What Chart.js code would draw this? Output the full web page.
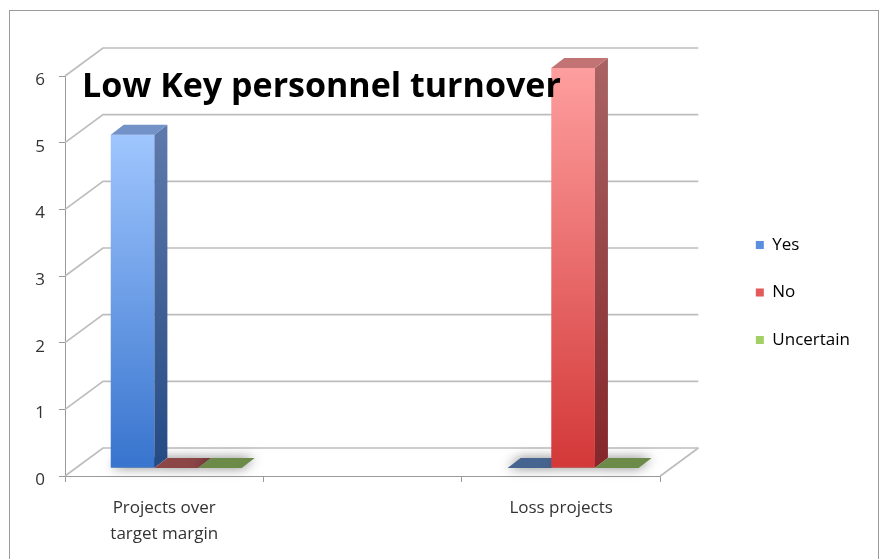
<!DOCTYPE html>
<html>
<head>
<meta charset="utf-8">
<script src="https://cdn.jsdelivr.net/npm/chart.js@4.4.0/dist/chart.umd.min.js"></script>
<style>
  html, body { margin: 0; padding: 0; background: #fff; }
  body { width: 881px; height: 559px; overflow: hidden; position: relative; }
  .frame { position: absolute; left: 9px; top: 10px; width: 868px; height: 600px; border: 1px solid #9a9a9a; }
  #chart { position: absolute; left: 0; top: 0; }
</style>
</head>
<body>
<div class="frame"></div>
<canvas id="chart" width="881" height="559"></canvas>
<script>
const TITLE = "Low Key personnel turnover";
const categories = [["Projects over", "target margin"], "", "Loss projects"];
const seriesNames = ["Yes", "No", "Uncertain"];
const yesValues = [5, null, 0];
const noValues = [0, null, 6];
const uncertainValues = [0, null, 0];
const yTicks = [0, 1, 2, 3, 4, 5, 6];

// styles
const legendColors = ["#5a8fdd", "#e25a5a", "#a3d065"];
const frontTop = ["#a2c8ff", "#ffa0a0", "#b5dc80"];
const frontBottom = ["#3a76cf", "#d43a3a", "#6e9a3a"];
const sideTop = ["#5d79ab", "#a86262", "#6d8a48"];
const sideBottom = ["#244a84", "#84262a", "#4a6a28"];
const topColors = ["#7292c8", "#c27474", "#7a9a52"];
const flatColors = ["#45648f", "#8c4646", "#6c8a48"];

const WALL = { x: 38, y: -28 };
const SHIFT = { x: 12, y: -8 };
const BAR_DEPTH = { x: 13, y: -10 };
const FONT = "'Open Sans', Lato, sans-serif";

function frontGradient(i) {
  return (context) => {
    const chart = context.chart;
    if (!chart.chartArea || context.raw == null) return frontBottom[i];
    const yScale = chart.scales.y;
    const top = yScale.getPixelForValue(context.raw) + SHIFT.y;
    const bottom = yScale.getPixelForValue(0) + SHIFT.y;
    if (bottom - top < 1) return frontBottom[i];
    const g = chart.ctx.createLinearGradient(0, top, 0, bottom);
    g.addColorStop(0, frontTop[i]);
    g.addColorStop(1, frontBottom[i]);
    return g;
  };
}

function poly(ctx, pts, fill) {
  ctx.beginPath();
  ctx.moveTo(pts[0][0], pts[0][1]);
  for (let k = 1; k < pts.length; k += 1) ctx.lineTo(pts[k][0], pts[k][1]);
  ctx.closePath();
  ctx.fillStyle = fill;
  ctx.fill();
}

function eachBar(chart, cb) {
  chart.data.datasets.forEach((ds, i) => {
    const meta = chart.getDatasetMeta(i);
    meta.data.forEach((bar, j) => {
      const v = ds.data[j];
      if (v == null) return;
      const p = bar.getProps(["x", "y", "base", "width"], true);
      cb(i, v, p.x - p.width / 2, p.x + p.width / 2, p.y, p.base);
    });
  });
}

const threeD = {
  id: "threeD",
  beforeDatasetsDraw(chart) {
    const { ctx, chartArea } = chart;
    const { left, right, bottom } = chartArea;
    const yScale = chart.scales.y;

    ctx.save();
    ctx.strokeStyle = "#bdbdbd";
    ctx.lineWidth = 1.7;
    yTicks.forEach((t) => {
      const py = yScale.getPixelForValue(t);
      ctx.beginPath();
      ctx.moveTo(left, py);
      ctx.lineTo(left + WALL.x, py + WALL.y);
      ctx.lineTo(right + WALL.x, py + WALL.y);
      ctx.stroke();
    });
    ctx.beginPath();
    ctx.moveTo(right, bottom);
    ctx.lineTo(right + WALL.x, bottom + WALL.y);
    ctx.stroke();
    ctx.restore();

    ctx.save();
    ctx.translate(SHIFT.x, SHIFT.y);
    // floor footprints with soft shadow
    eachBar(chart, (i, v, l, r, y, base) => {
      const pts = [[l, base], [r, base], [r + BAR_DEPTH.x, base + BAR_DEPTH.y], [l + BAR_DEPTH.x, base + BAR_DEPTH.y]];
      ctx.save();
      ctx.shadowColor = "rgba(0,0,0,0.5)";
      ctx.shadowBlur = 12;
      poly(ctx, pts, flatColors[i]);
      ctx.restore();
    });
    ctx.restore();

    ctx.save();
    ctx.translate(SHIFT.x, SHIFT.y);
  },
  afterDatasetsDraw(chart) {
    const { ctx } = chart;
    eachBar(chart, (i, v, l, r, y, base) => {
      if (v <= 0) return;
      const g = ctx.createLinearGradient(0, y, 0, base);
      g.addColorStop(0, sideTop[i]);
      g.addColorStop(1, sideBottom[i]);
      poly(ctx, [[r, y], [r + BAR_DEPTH.x, y + BAR_DEPTH.y], [r + BAR_DEPTH.x, base + BAR_DEPTH.y], [r, base]], g);
      poly(ctx, [[l, y], [r, y], [r + BAR_DEPTH.x, y + BAR_DEPTH.y], [l + BAR_DEPTH.x, y + BAR_DEPTH.y]], topColors[i]);
    });
    ctx.restore();
  },
  afterDraw(chart) {
    const { ctx } = chart;
    ctx.save();
    ctx.font = `bold 34px ${FONT}`;
    ctx.fillStyle = "#000";
    ctx.textBaseline = "alphabetic";
    ctx.textAlign = "left";
    ctx.fillText(TITLE, 82, 97);
    ctx.restore();
  },
};

const seriesValues = [yesValues, noValues, uncertainValues];

new Chart(document.getElementById("chart"), {
  type: "bar",
  data: {
    labels: categories,
    datasets: seriesNames.map((name, i) => ({
      label: name,
      data: seriesValues[i],
      backgroundColor: frontGradient(i),
      borderWidth: 0,
      categoryPercentage: 0.66,
      barPercentage: 1,
      clip: false,
    })),
  },
  options: {
    responsive: false,
    animation: false,
    layout: { padding: { top: 34, bottom: 8, left: 0, right: 21 } },
    plugins: {
      title: { display: false },
      tooltip: { enabled: false },
      legend: {
        position: "right",
        align: "center",
        labels: {
          boxWidth: 8,
          boxHeight: 8,
          padding: 30.5,
          color: "#333",
          font: { family: FONT, size: 17 },
          generateLabels(chart) {
            return chart.data.datasets.map((ds, i) => ({
              text: ds.label,
              fillStyle: legendColors[i],
              strokeStyle: legendColors[i],
              lineWidth: 0,
              hidden: false,
              datasetIndex: i,
            }));
          },
        },
      },
    },
    scales: {
      x: {
        grid: { drawOnChartArea: false, tickLength: 6, color: "#9a9a9a" },
        border: { color: "#9a9a9a" },
        ticks: {
          color: "#333",
          padding: 13,
          maxRotation: 0,
          font: { family: FONT, size: 17, lineHeight: 1.55 },
        },
        afterFit(scale) { scale.height = 75; },
      },
      xTop: {
        position: "top",
        grid: { display: false },
        border: { display: false },
        ticks: { display: false },
        afterFit(scale) { scale.height = 42; },
      },
      y: {
        min: 0,
        max: 6,
        afterBuildTicks(scale) { scale.ticks = yTicks.map((v) => ({ value: v })); },
        grid: { drawOnChartArea: false, tickLength: 6, color: "#9a9a9a" },
        border: { color: "#9a9a9a" },
        ticks: {
          color: "#333",
          padding: 14,
          labelOffset: 4,
          font: { family: FONT, size: 17 },
        },
        afterFit(scale) { scale.width = 65; },
      },
      yRight: {
        position: "right",
        grid: { display: false },
        border: { display: false },
        ticks: { display: false },
        afterFit(scale) { scale.width = 65; },
      },
    },
  },
  plugins: [threeD],
});
</script>
</body>
</html>
